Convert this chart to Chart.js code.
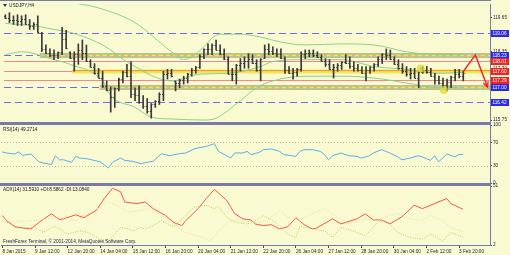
<!DOCTYPE html>
<html>
<head>
<meta charset="utf-8">
<script src="https://cdn.jsdelivr.net/npm/chart.js"></script>
<style>
html,body{margin:0;padding:0;width:510px;height:255px;overflow:hidden;background:#FAFAD2;}
canvas{position:absolute;left:0;top:0;}
.sep{position:absolute;left:0;width:491px;background:#7a7aaa;z-index:5;}
</style>
</head>
<body>
<canvas id="main" width="510" height="255"></canvas>
<canvas id="rsi" width="510" height="255"></canvas>
<canvas id="adx" width="510" height="255"></canvas>
<div class="sep" style="top:0;height:1px"></div>
<div class="sep" style="top:122px;height:3px"></div>
<div class="sep" style="top:183px;height:3px"></div>
<script>
// ---------------- DATA ----------------
const symbolTitle = 'USDJPY,H4';
const rsiTitle = 'RSI(14) 49.2714';
const adxTitle = 'ADX(14) 31.5910 +DI:8.5862 -DI:13.0840';
const copyright = 'FreshForex Terminal, \u00A9 2001-2014, MetaQuotes Software Corp.';

const timeTickIdx = [1,9,17,25,33,41,49,57,65,73,81,89,97,105,113];
const timeTickLabels = ['8 Jan 2015','9 Jan 12:00','12 Jan 20:00','14 Jan 04:00','15 Jan 12:00','16 Jan 20:00','20 Jan 04:00','21 Jan 12:00','22 Jan 20:00','26 Jan 04:00','27 Jan 12:00','28 Jan 20:00','30 Jan 04:00','2 Feb 12:00','3 Feb 20:00'];
const priceTicks = [115.75,116.40,117.05,117.70,118.35,119.00,119.65];
const rsiTicks = [0,30,70,100];
const rsiLevels = [30,70];
const adxTicks = [2,51];

const highs = [119.76,119.84,119.72,119.76,119.72,119.76,119.58,119.46,119.72,119.09,
118.61,118.46,118.42,118.35,119.28,119.17,118.35,118.35,118.65,118.80,
118.61,118.05,117.90,117.72,117.61,117.24,117.01,116.98,117.35,117.61,
117.87,117.98,116.98,117.05,116.68,116.57,116.38,116.49,116.79,117.61,
117.68,117.68,117.24,117.31,117.42,117.53,117.72,117.79,118.24,118.46,
118.65,118.65,118.80,118.61,118.46,118.16,117.72,117.87,118.09,118.16,
118.28,118.24,118.05,118.09,118.61,118.65,118.54,118.46,118.46,118.16,
117.79,117.72,117.72,118.35,118.42,118.42,118.42,118.35,118.24,118.09,
118.05,117.87,117.90,117.98,118.24,118.16,117.98,117.87,117.79,117.79,
117.79,117.90,118.16,118.28,118.46,118.42,118.16,118.05,117.90,117.79,
117.72,117.72,117.61,117.79,117.79,117.72,117.53,117.42,117.35,117.31,
117.42,117.68,117.68,117.61];
const lows = [119.61,119.46,119.39,119.35,119.35,119.39,119.20,119.20,119.09,118.35,
118.28,118.16,118.05,118.09,118.24,118.46,118.09,117.61,117.87,118.05,
117.98,117.76,117.50,117.35,116.98,116.86,116.05,116.23,116.86,117.16,
117.39,116.60,116.49,116.38,116.19,116.01,115.82,116.23,116.34,116.49,
117.31,117.39,116.86,116.98,117.12,117.16,117.42,117.53,117.72,118.09,
118.24,118.24,118.42,118.24,118.05,117.50,117.24,117.12,117.61,117.72,
117.72,117.90,117.61,117.24,118.09,118.24,118.24,118.16,118.09,117.53,
117.53,117.31,117.42,117.61,118.09,118.16,118.16,118.13,117.98,117.79,
117.68,117.35,117.61,117.68,117.90,117.72,117.61,117.61,117.53,117.24,
117.53,117.61,117.79,117.90,118.05,118.05,117.87,117.68,117.53,117.42,
117.31,117.35,116.98,117.53,117.53,117.42,117.12,117.12,116.98,116.86,
116.98,117.24,117.35,117.24];
const opens = [119.70,119.65,119.56,119.56,119.54,119.58,119.39,119.33,119.41,119.07,
118.45,118.31,118.24,118.22,118.33,118.82,118.33,118.12,118.26,118.43,
118.30,118.00,117.78,117.54,117.37,117.05,116.88,116.61,116.96,117.33,
117.58,117.42,116.74,116.72,116.44,116.29,116.10,116.36,116.47,116.76,
117.50,117.54,117.22,117.15,117.27,117.35,117.50,117.66,117.76,118.20,
118.44,118.45,118.60,118.43,118.26,118.08,117.52,117.50,117.85,117.94,
118.00,118.07,117.92,117.67,118.10,118.45,118.39,118.31,118.28,118.11,
117.66,117.55,117.57,117.70,118.26,118.29,118.29,118.24,118.14,118.00,
117.87,117.70,117.76,117.83,117.96,117.94,117.80,117.74,117.66,117.55,
117.66,117.76,117.88,118.09,118.26,118.24,118.07,117.89,117.72,117.61,
117.52,117.54,117.37,117.58,117.66,117.57,117.44,117.27,117.17,117.09,
117.20,117.40,117.52,117.43];
const closes = [119.65,119.56,119.56,119.54,119.58,119.39,119.33,119.41,119.12,118.45,
118.31,118.24,118.22,118.33,118.82,118.48,118.12,118.26,118.43,118.30,
118.00,117.78,117.54,117.37,117.05,116.88,116.61,116.96,117.33,117.58,
117.42,116.74,116.72,116.44,116.29,116.10,116.36,116.47,116.76,117.50,
117.54,117.41,117.15,117.27,117.35,117.50,117.66,117.76,118.20,118.44,
118.45,118.60,118.43,118.26,118.08,117.52,117.50,117.85,117.94,118.00,
118.07,117.92,117.67,118.07,118.45,118.39,118.31,118.28,118.11,117.66,
117.55,117.57,117.70,118.26,118.29,118.29,118.24,118.14,118.00,117.87,
117.70,117.76,117.83,117.96,117.94,117.80,117.74,117.66,117.55,117.66,
117.76,117.88,118.09,118.26,118.24,118.07,117.89,117.72,117.61,117.52,
117.54,117.37,117.58,117.66,117.57,117.44,117.27,117.17,117.09,117.20,
117.40,117.52,117.43,117.55];

const bbUpperIdx = [1,5,13,18,24,33,42,45,47,50,52,54,59,64,69,75,84,92,100,108,114];
const bbUpperVal = [120.62,120.43,120.36,120.21,120.02,119.46,118.35,118.05,118.16,118.54,118.87,119.02,119.02,118.91,118.72,118.61,118.65,118.61,118.35,118.24,118.24];
const bbMidIdx = [1,9,13,17,25,32,42,49,56,64,67,75,84,92,100,108,114];
const bbMidVal = [119.43,119.32,119.20,119.09,118.61,117.87,117.24,117.50,117.53,117.79,117.98,118.05,118.05,117.79,117.68,117.53,117.57];
const bbLowerIdx = [1,5,13,17,25,27,33,37,42,50,53,59,63,67,75,84,92,100,108,114];
const bbLowerVal = [118.24,118.35,118.05,117.87,117.24,116.68,116.23,115.86,115.79,115.75,115.82,116.49,116.98,117.24,117.42,117.42,117.35,117.16,116.98,117.01];

const levelPrices = [119.06,118.23,118.01,117.60,117.29,117.00,116.42];
const levelKinds  = ['support','zone','resist','zoneMain','resist','zone','support'];
const levelZoneFrom = [null,9.5,null,17.5,null,24.3,null];

const arrowIdx = [114,117,120];
const arrowVal = [117.60,118.23,117.00];
const markIdx = [103.5,109.2];
const markVal = [117.71,116.89];

const rsiIdx = [1,2,4,5,6,8,10,11,13,14,15,16,18,19,20,22,25,27,28,30,31,33,35,37,38,40,42,44,46,48,49,51,53,54,57,58,60,61,62,64,65,67,69,70,72,73,74,75,77,79,80,81,82,84,86,88,89,91,92,94,96,98,99,101,103,104,106,107,108,110,112,113,114];
const rsiVal = [53.5,51.8,50,53.5,47.7,50,36.4,34.6,31.7,47,40,40,35.7,46,43,41.5,36.4,26,35.7,43,39,37.4,33.4,36.4,37.4,50.6,47,50,51.8,58.7,60.4,63,67.8,54.5,43,51.8,51.8,54.5,49,52.8,57.5,58.7,54.5,49,47,46,54.5,57.5,57.5,54.5,49,40,47,51.8,47,46,43,47,51.8,57.5,51.8,45,40,43,47,45,39,47,36.4,50,45,49,49.3];

const adxIdx = [1,2,4,5,8,10,13,15,16,19,21,24,26,28,30,31,34,36,38,41,43,45,46,49,51,53,56,58,60,62,63,65,67,69,71,73,75,77,78,82,84,88,90,92,94,96,99,102,104,107,110,111,114];
const adxVal = [26.5,22.3,17.2,16.6,15.3,20.8,27.9,23.1,23.7,27.1,24.6,30.7,40.6,49.1,46.2,37.7,36.4,37.7,32.2,26.5,20.8,18.1,22.3,32.2,40.6,48.2,39.2,27.9,23.7,22.8,19.5,18.1,18.9,15.3,17.2,24.6,18.9,15.3,16.0,23.7,19.5,23.7,27.9,22.8,22.8,19.5,25.4,35.0,32.2,36.4,40.6,36.4,31.6];
const pdiIdx = [1,4,5,9,11,13,14,17,20,22,25,27,30,32,33,35,36,38,40,43,46,48,51,53,54,56,58,61,63,65,68,71,73,74,77,80,82,84,87,90,93,95,98,101,104,106,109,111,114];
const pdiVal = [22.3,18.1,16.1,16.6,12.5,16.6,17.5,11.0,13.8,12.5,6.8,5.4,16.6,15.3,13.8,16.6,15.3,18.1,22.3,17.2,26.5,33.5,35.0,32.2,34.0,25.1,20.8,19.5,22.3,26.5,20.8,11.0,8.2,17.5,15.3,13.8,8.2,16.6,13.8,9.6,20.8,22.3,12.5,8.2,6.8,11.0,5.4,12.5,8.6];
const mdiIdx = [1,3,9,15,19,25,27,29,32,35,37,41,44,46,50,52,54,57,59,63,66,69,71,74,76,80,83,86,90,93,96,98,101,104,106,109,111,114];
const mdiVal = [25.1,20.8,22.3,25.1,22.3,33.5,37.7,35.0,29.3,30.7,32.2,25.1,16.6,12.5,8.2,5.4,13.8,22.3,22.3,20.8,22.3,30.7,25.1,22.3,26.5,32.2,25.1,19.5,23.7,22.3,26.5,27.9,23.7,22.3,26.5,22.3,16.6,13.1];

// ---------------- STYLE / HELPERS ----------------
const X_MIN = 0.66, X_MAX = 120.6;
const FONT = '"Liberation Sans", Arial, sans-serif';
const FS = 4.7;
const AXIS = '#7a7aaa', TXT = '#1e1e3a';
Chart.defaults.animation = false;
Chart.defaults.responsive = false;
Chart.defaults.events = [];
Chart.defaults.plugins.legend.display = false;
Chart.defaults.plugins.tooltip.enabled = false;
Chart.defaults.font.family = FONT;

const pts = (xs, ys) => xs.map((x, k) => ({x, y: ys[k]}));

function xAxis(show){
  const a = { type:'linear', min:X_MIN, max:X_MAX, offset:false, display:show,
    grid:{ offset:false, drawOnChartArea:false, drawTicks:true, tickLength:3, tickColor:'#40406a' },
    border:{ display:true, color:AXIS, width:1 } };
  if (show) {
    a.afterBuildTicks = s => { s.ticks = timeTickIdx.map(v => ({value:v})); };
    a.afterFit = s => { s.height = 10; s.paddingLeft = 0; s.paddingRight = 0; };
    a.ticks = { autoSkip:false, maxRotation:0, minRotation:0, align:'start', padding:0.5,
      font:{family:FONT, size:FS}, color:TXT, callback:(v,i) => timeTickLabels[i] };
  }
  return a;
}
function yAxis(min, max, ticks, fmt){
  return { type:'linear', position:'right', min, max,
    afterBuildTicks: s => { s.ticks = ticks.map(v => ({value:v})); },
    afterFit: s => { s.width = 20; s.paddingTop = 0; s.paddingBottom = 0; },
    ticks:{ font:{family:FONT, size:FS}, color:TXT, padding:1, autoSkip:false, callback:fmt },
    grid:{ drawOnChartArea:false, drawTicks:true, tickLength:2, tickColor:'#40406a' },
    border:{ display:true, color:AXIS, width:1 } };
}
function text(ctx, s, x, y, color){
  ctx.save(); ctx.font = FS + 'px ' + FONT; ctx.fillStyle = color || '#202020';
  ctx.textBaseline = 'middle'; ctx.textAlign = 'left'; ctx.fillText(s, x, y); ctx.restore();
}

// ---------------- MAIN CHART ----------------
const barIdx = highs.map((_, k) => k + 1);
const BAR_DS = 3;

const mainPlugin = {
  id:'mainDeco',
  beforeDatasetsDraw(chart){
    const {ctx, chartArea:a, scales:{x, y}} = chart;
    ctx.save();
    ctx.beginPath(); ctx.rect(a.left, a.top, a.right - a.left, a.bottom - a.top); ctx.clip();
    levelPrices.forEach((p, i) => {
      const py = Math.round(y.getPixelForValue(p)) + 0.5;
      const kind = levelKinds[i];
      const zx = levelZoneFrom[i] == null ? null : x.getPixelForValue(levelZoneFrom[i]);
      const line = (x0, x1, col, w, dash, dy) => {
        ctx.beginPath(); ctx.setLineDash(dash || []); ctx.strokeStyle = col; ctx.lineWidth = w;
        ctx.moveTo(x0, py + (dy || 0)); ctx.lineTo(x1, py + (dy || 0)); ctx.stroke();
      };
      if (kind === 'support') line(a.left, a.right, '#6e6ee2', 1.2, [7,4]);
      if (kind === 'resist') line(a.left, a.right, '#f08a8a', 1);
      if (kind === 'zone') {
        line(a.left, zx, '#6e6ee2', 1.2, [7,4]);
        line(zx, a.right, 'rgba(130,130,90,0.5)', 5);
        line(zx, a.right, '#f4ee2c', 1.6, [4,3]);
      }
      if (kind === 'zoneMain') {
        line(a.left, a.right, '#f08a8a', 1);
        line(zx, a.right, 'rgba(240,226,80,0.9)', 4);
        line(zx, a.right, '#f0a024', 1, null, -1);
      }
    });
    ctx.restore();
  },
  afterDatasetDraw(chart, args){
    if (args.index !== BAR_DS) return;
    const {ctx, scales:{y}} = chart;
    ctx.save(); ctx.strokeStyle = '#3a3a3a'; ctx.lineWidth = 1;
    args.meta.data.forEach((el, k) => {
      const cx = el.x;
      const yo = Math.round(y.getPixelForValue(opens[k])) + 0.5;
      const yc = Math.round(y.getPixelForValue(closes[k])) + 0.5;
      ctx.beginPath();
      ctx.moveTo(cx - 1.4, yo); ctx.lineTo(cx, yo);
      ctx.moveTo(cx, yc); ctx.lineTo(cx + 1.4, yc);
      ctx.stroke();
    });
    ctx.restore();
  },
  afterDatasetsDraw(chart){
    const {ctx} = chart;
    const el = chart.getDatasetMeta(2).data;
    const p1 = el[el.length - 2], p2 = el[el.length - 1];
    const ang = Math.atan2(p2.y - p1.y, p2.x - p1.x), L = 6, s = 0.45;
    ctx.save(); ctx.strokeStyle = '#ee2222'; ctx.lineWidth = 1.4;
    ctx.beginPath();
    ctx.moveTo(p2.x - L * Math.cos(ang - s), p2.y - L * Math.sin(ang - s));
    ctx.lineTo(p2.x, p2.y);
    ctx.lineTo(p2.x - L * Math.cos(ang + s), p2.y - L * Math.sin(ang + s));
    ctx.stroke(); ctx.restore();
  },
  afterDraw(chart){
    const {ctx, scales:{y}} = chart;
    levelPrices.forEach((p, i) => {
      const py = y.getPixelForValue(p);
      const red = levelKinds[i] === 'resist' || levelKinds[i] === 'zoneMain';
      ctx.fillStyle = red ? '#ee2424' : '#2a2ae4';
      ctx.fillRect(491, Math.round(py) - 3, 18, 7);
      text(ctx, p.toFixed(2), 492.5, Math.round(py) + 0.5, '#ffffff');
    });
    ctx.save(); ctx.fillStyle = '#303040';
    ctx.beginPath(); ctx.moveTo(3, 4); ctx.lineTo(7, 4); ctx.lineTo(5, 7); ctx.closePath(); ctx.fill();
    ctx.restore();
    text(ctx, symbolTitle, 9, 5.5, '#202020');
  }
};

new Chart(document.getElementById('main'), {
  type:'bar',
  data:{ datasets:[
    { type:'line', data:pts(markIdx, markVal), showLine:false, pointRadius:4, pointBackgroundColor:'rgba(222,220,60,0.75)', pointBorderWidth:0, order:0 },
    { type:'line', data:pts(markIdx.slice(0,1), markVal.slice(0,1)), showLine:false, pointRadius:1, pointBackgroundColor:'#e02020', pointBorderWidth:0, order:0 },
    { type:'line', data:pts(arrowIdx, arrowVal), borderColor:'#ee2222', borderWidth:1.4, pointRadius:0, tension:0, order:0, clip:false },
    { type:'bar', data:barIdx.map((x, k) => ({x, y:[lows[k], highs[k]]})), backgroundColor:'#3a3a3a', barThickness:1, grouped:false, order:1 },
    { type:'line', data:pts(bbUpperIdx, bbUpperVal), borderColor:'#8ccf8c', borderWidth:1, pointRadius:0, cubicInterpolationMode:'monotone', order:2 },
    { type:'line', data:pts(bbMidIdx, bbMidVal), borderColor:'#8ccf8c', borderWidth:1, pointRadius:0, cubicInterpolationMode:'monotone', order:2 },
    { type:'line', data:pts(bbLowerIdx, bbLowerVal), borderColor:'#8ccf8c', borderWidth:1, pointRadius:0, cubicInterpolationMode:'monotone', order:2 }
  ]},
  options:{
    layout:{ padding:{ top:1, bottom:133, left:1, right:0 } },
    scales:{ x:xAxis(false), y:yAxis(115.675, 120.17, priceTicks, v => Number(v).toFixed(2)) }
  },
  plugins:[mainPlugin]
});

// ---------------- RSI CHART ----------------
new Chart(document.getElementById('rsi'), {
  type:'line',
  data:{ datasets:[
    { data:pts(rsiIdx, rsiVal), borderColor:'#58aee8', borderWidth:1, pointRadius:0, tension:0 }
  ]},
  options:{
    layout:{ padding:{ top:125, bottom:72, left:1, right:0 } },
    scales:{ x:xAxis(false), y:yAxis(0, 100, rsiTicks, v => String(v)) }
  },
  plugins:[{
    id:'rsiDeco',
    beforeDatasetsDraw(chart){
      const {ctx, chartArea:a, scales:{y}} = chart;
      ctx.save(); ctx.strokeStyle = '#b8b8a4'; ctx.lineWidth = 1; ctx.setLineDash([1,2]);
      rsiLevels.forEach(v => {
        const py = Math.round(y.getPixelForValue(v)) + 0.5;
        ctx.beginPath(); ctx.moveTo(a.left, py); ctx.lineTo(a.right, py); ctx.stroke();
      });
      ctx.restore();
    },
    afterDraw(chart){ text(chart.ctx, rsiTitle, 3, 129.5, '#202020'); }
  }]
});

// ---------------- ADX CHART ----------------
new Chart(document.getElementById('adx'), {
  type:'line',
  data:{ datasets:[
    { data:pts(mdiIdx, mdiVal), borderColor:'#e4daa0', borderWidth:1, borderDash:[1,1.5], pointRadius:0, tension:0 },
    { data:pts(pdiIdx, pdiVal), borderColor:'#b2d048', borderWidth:1, borderDash:[1,1.5], pointRadius:0, tension:0 },
    { data:pts(adxIdx, adxVal), borderColor:'#f0564a', borderWidth:1, pointRadius:0, tension:0 }
  ]},
  options:{
    layout:{ padding:{ top:186, bottom:0, left:1, right:0 } },
    scales:{ x:xAxis(true), y:yAxis(2, 51, adxTicks, v => String(v)) }
  },
  plugins:[{
    id:'adxDeco',
    afterDraw(chart){
      text(chart.ctx, adxTitle, 3, 190, '#202020');
      text(chart.ctx, copyright, 3, 242, '#1c1c50');
    }
  }]
});
</script>
</body>
</html>
